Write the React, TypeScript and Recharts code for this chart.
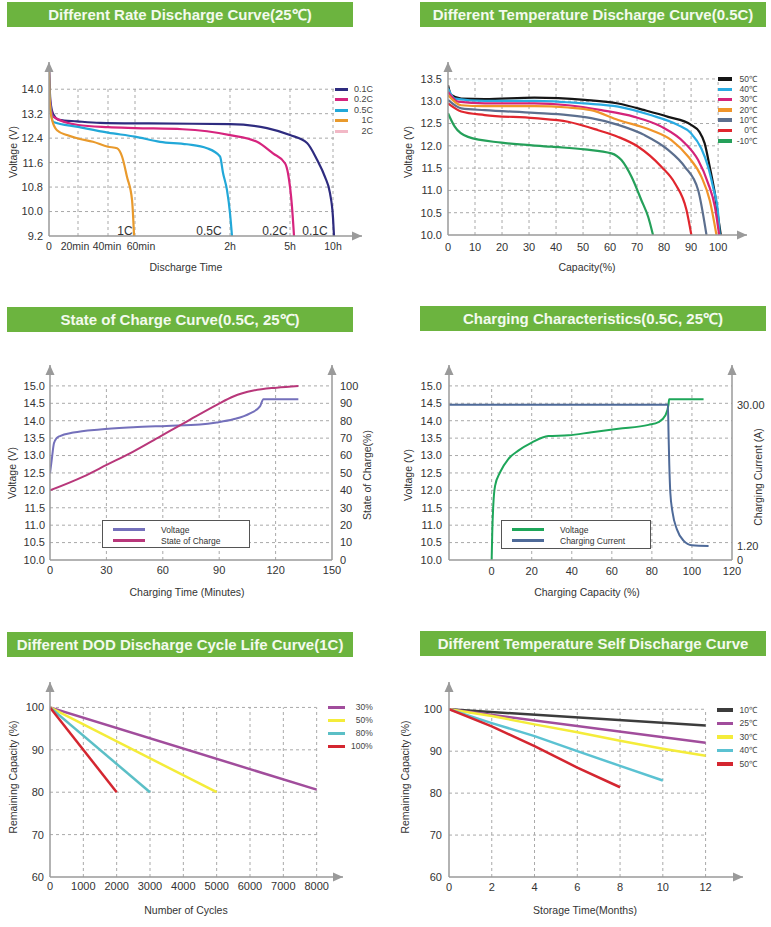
import React from "react";
import { LineChart, Line, XAxis, YAxis, ReferenceLine, ReferenceDot, Legend } from "recharts";

type P = [number, number];

const FONT = '"Liberation Sans", Arial, sans-serif';
const AXIS = "#9a9a9a";
const GRID = "#a9a9a9";
const BANNER = "#6cb43f";

// ---- Different Rate Discharge Curve (25℃) ----
const rateTickMinutes = [0, 20, 40, 60, 120, 300, 600];
const rateTickLabels = ["0", "20min", "40min", "60min", "2h", "5h", "10h"];
const rate01C: P[] = [[0, 14.7], [0.34, 14.2], [1.0, 13.6], [2.8, 13.2], [6.9, 13.0], [19.3, 12.95], [34.7, 12.9], [68.8, 12.88], [120, 12.86], [231, 12.73], [300, 12.5], [419, 12.24], [488, 11.7], [544, 11.13], [579, 10.6], [600, 9.8], [607, 9.2]];
const rate02C: P[] = [[0, 14.7], [0.34, 14.1], [1.0, 13.5], [3.0, 13.1], [20, 12.83], [40, 12.76], [60, 12.73], [90, 12.69], [120, 12.5], [201, 12.28], [249, 11.9], [285, 11.58], [294, 11.25], [314, 10.15], [328, 9.2]];
const rate05C: P[] = [[0, 14.7], [0.34, 14.0], [1.0, 13.4], [3.0, 12.93], [20, 12.77], [40, 12.58], [60, 12.45], [75.8, 12.28], [92.8, 12.2], [105.5, 12.07], [113.7, 11.8], [115.6, 11.26], [118.1, 10.7], [120, 9.95], [126, 9.2]];
const rate1C: P[] = [[0, 14.7], [0.34, 13.8], [1.0, 13.3], [2.1, 13.0], [5.5, 12.66], [12.4, 12.5], [20, 12.39], [30, 12.28], [40, 12.12], [46.7, 12.07], [50.4, 11.8], [54.1, 11.13], [57.8, 10.38], [59.3, 9.2]];
const rateNames = ["0.1C", "0.2C", "0.5C", "1C", "2C"];
const rateColors = ["#2e2b7f", "#d6247e", "#22a8d8", "#e99a2c", "#f2b8c6"];
const rateTags: [string, number, number][] = [["1C", 52.6, 9.36], ["0.5C", 106.7, 9.36], ["0.2C", 255, 9.36], ["0.1C", 474, 9.36]];

// ---- Different Temperature Discharge Curve (0.5C) ----
const temp50: P[] = [[0, 13.36], [1.2, 13.14], [4.9, 13.06], [13.6, 13.05], [32, 13.08], [50.6, 13.03], [63, 12.95], [72.8, 12.8], [81.5, 12.65], [90, 12.47], [93, 12.32], [95, 12.06], [96.9, 11.53], [98.8, 10.93], [100, 10.41], [101, 10.0]];
const temp40: P[] = [[0, 13.29], [2.5, 13.06], [13.6, 13.01], [32, 13.01], [50.6, 12.95], [63, 12.88], [75, 12.69], [85, 12.47], [90, 12.28], [93.8, 11.94], [96.3, 11.53], [98.1, 11.08], [100, 10.49], [100.6, 10.0]];
const temp30: P[] = [[0, 13.21], [3.7, 12.99], [13.6, 12.95], [32, 12.95], [44.4, 12.91], [56.8, 12.8], [69, 12.65], [79, 12.43], [87.7, 12.06], [92.6, 11.68], [96.3, 11.16], [98.8, 10.64], [100.4, 10.0]];
const temp20: P[] = [[0, 13.14], [4.9, 12.91], [13.6, 12.89], [32, 12.89], [44.4, 12.86], [53, 12.8], [63, 12.58], [75.3, 12.35], [82.7, 12.13], [88.9, 11.76], [93.8, 11.31], [96.9, 10.78], [99.4, 10.0]];
const temp10: P[] = [[0, 13.03], [4.9, 12.84], [13.6, 12.8], [32, 12.74], [44.4, 12.69], [53, 12.62], [63, 12.47], [72.8, 12.24], [81.5, 11.91], [87.7, 11.53], [92.6, 11.01], [95.7, 10.0]];
const temp0: P[] = [[0, 12.95], [4.9, 12.77], [13.6, 12.69], [32, 12.62], [44.4, 12.54], [55.6, 12.35], [63, 12.2], [70.4, 11.98], [79, 11.53], [84, 11.16], [88.3, 10.56], [90.1, 10.0]];
const tempM10: P[] = [[0, 12.73], [2.5, 12.43], [7.4, 12.2], [19.8, 12.07], [38.3, 11.98], [50.6, 11.92], [60.5, 11.83], [64.2, 11.68], [67.9, 11.31], [71.6, 10.78], [74.1, 10.41], [75.9, 10.0]];
const tempNames = ["50℃", "40℃", "30℃", "20℃", "10℃", "0℃", "-10℃"];
const tempColors = ["#151515", "#29abe2", "#d4237a", "#f0952a", "#5c6f8e", "#e0262e", "#25a05a"];

// ---- State of Charge Curve (0.5C, 25℃) ----
const socVoltage: P[] = [[0, 12.49], [0.9, 12.87], [2.1, 13.35], [3.5, 13.5], [5.3, 13.56], [12.4, 13.66], [26.6, 13.75], [44.3, 13.81], [62, 13.85], [79.8, 13.89], [88.7, 13.95], [97.5, 14.04], [106.4, 14.21], [111.7, 14.41], [113.5, 14.62], [115.2, 14.62], [132.1, 14.62]];
const socPercent: P[] = [[0, 40], [17.7, 47.9], [30.1, 54.6], [44.3, 62.3], [58.5, 70.9], [72.7, 79.5], [88.7, 89.1], [97.5, 93.9], [108.2, 97.3], [120.6, 99], [132.1, 100]];

// ---- Charging Characteristics (0.5C, 25℃) ----
const chgVoltage: P[] = [[0, 10.0], [0.3, 10.79], [0.8, 11.56], [1.7, 12.13], [4.2, 12.52], [8.3, 12.9], [13.3, 13.14], [20, 13.37], [28.3, 13.56], [38.3, 13.58], [50, 13.67], [63.3, 13.77], [78.3, 13.88], [83.3, 13.96], [86.7, 14.15], [88.3, 14.46], [88.6, 14.62], [105.8, 14.62]];
const chgCurrent: P[] = [[-21.3, 30], [88, 30], [88.3, 24.4], [88.7, 17.6], [89.2, 12.1], [90.3, 8.1], [92.5, 4.6], [95.8, 2.3], [100, 1.35], [108.3, 1.2]];
const currentTicks = [0, 1.2, 30];
const currentTickLabels = ["0", "1.20", "30.00"];

// ---- Different DOD Discharge Cycle Life Curve (1C) ----
const dod30: P[] = [[0, 100], [8000, 80.6]];
const dod50: P[] = [[0, 100], [5000, 80]];
const dod80: P[] = [[0, 100], [3000, 80]];
const dod100: P[] = [[0, 100], [2000, 80]];
const dodNames = ["30%", "50%", "80%", "100%"];
const dodColors = ["#a14d9c", "#f4ec3a", "#5bbfc6", "#d42630"];

// ---- Different Temperature Self Discharge Curve ----
const self10: P[] = [[0, 100], [12, 96.1]];
const self25: P[] = [[0, 100], [12, 92.0]];
const self30: P[] = [[0, 100], [2, 98.4], [4, 96.4], [6, 94.5], [8, 92.5], [10, 90.6], [12, 88.9]];
const self40: P[] = [[0, 100], [2, 96.7], [4, 93.6], [6, 90.0], [8, 86.5], [10, 83.0]];
const self50: P[] = [[0, 100], [2, 95.9], [4, 91.2], [6, 86.1], [8, 81.4]];
const selfNames = ["10℃", "25℃", "30℃", "40℃", "50℃"];
const selfColors = ["#3c3c3c", "#a14d9c", "#f4ec3a", "#5bc2d2", "#d42630"];

const pts = (a: P[]) => a.map(([x, y]) => ({ x, y }));

// non-linear time axis of the rate chart: where each tick sits along the axis
const rateAxisStops = [0, 29, 59, 86, 181, 241, 284];
const rateLabelNudge = [0, -3, -1, 6, 0, 0, 0];
const ratePos = (m: number) => {
  let i = 1;
  while (i < rateTickMinutes.length - 1 && m > rateTickMinutes[i]) i++;
  const t0 = rateTickMinutes[i - 1], t1 = rateTickMinutes[i];
  return rateAxisStops[i - 1] + ((m - t0) / (t1 - t0)) * (rateAxisStops[i] - rateAxisStops[i - 1]);
};

// the current axis is labelled 0 / 1.20 / 30.00 at uneven heights
const currentStops = [0, 0.4, 4.46];
const currentPos = (a: number) =>
  a <= 1.2 ? (a / 1.2) * currentStops[1] : currentStops[1] + ((a - 1.2) / 28.8) * (currentStops[2] - currentStops[1]);

const tick = { fontSize: 11, fill: "#333", fontFamily: FONT };
const axisLine = { stroke: AXIS, strokeWidth: 1.5 };

function grid(xs: number[], ys: number[], x0: number, x1: number, y0: number, y1: number, id = "l") {
  const c = { stroke: GRID, strokeDasharray: "3 3", strokeWidth: 1, yAxisId: id, ifOverflow: "visible" as const };
  return [
    ...ys.map((y) => <ReferenceLine key={"h" + y} segment={[{ x: x0, y }, { x: x1, y }]} {...c} />),
    ...xs.map((x) => <ReferenceLine key={"v" + x} segment={[{ x, y: y0 }, { x, y: y1 }]} {...c} />),
  ];
}

const UpArrow = (p: any) => (
  <path d={`M${p.cx - 4.5},${p.cy + 10}L${p.cx},${p.cy}L${p.cx + 4.5},${p.cy + 10}Z`} fill={AXIS} />
);
const RightArrow = (p: any) => (
  <path d={`M${p.cx - 10},${p.cy - 4.5}L${p.cx},${p.cy}L${p.cx - 10},${p.cy + 4.5}Z`} fill={AXIS} />
);

function SideLegend({ names, colors, rowH, sw, sh, tw, size }: any) {
  return (
    <div style={{ fontFamily: FONT }}>
      {names.map((n: string, i: number) => (
        <div key={n} style={{ display: "flex", alignItems: "center", height: rowH }}>
          <span style={{ display: "inline-block", width: sw, height: sh, background: colors[i] }} />
          <span style={{ width: tw, textAlign: "right", fontSize: size, color: "#444", lineHeight: 1 }}>{n}</span>
        </div>
      ))}
    </div>
  );
}

function BoxLegend({ items }: { items: [string, string][] }) {
  return (
    <div style={{ width: "100%", height: "100%", boxSizing: "border-box", border: "1px solid #555", background: "#fff", fontFamily: FONT, paddingTop: 3 }}>
      {items.map(([n, c]) => (
        <div key={n} style={{ display: "flex", alignItems: "center", height: 11 }}>
          <span style={{ display: "inline-block", marginLeft: 10, width: 32, height: 3, background: c }} />
          <span style={{ marginLeft: 16, fontSize: 8.5, color: "#333" }}>{n}</span>
        </div>
      ))}
    </div>
  );
}

function Banner({ x, y, w, text }: { x: number; y: number; w: number; text: string }) {
  return (
    <div style={{ position: "absolute", left: x, top: y, width: w, height: 25, background: BANNER, color: "#f3faee", fontFamily: FONT, fontWeight: "bold", fontSize: 15, lineHeight: "25px", textAlign: "center", whiteSpace: "nowrap" }}>
      {text}
    </div>
  );
}

function Txt({ x, y, text, rotate = false }: { x: number; y: number; text: string; rotate?: boolean }) {
  return (
    <div style={{ position: "absolute", left: x - 100, top: y - 6, width: 200, height: 12, lineHeight: "12px", textAlign: "center", fontSize: 10.5, fontFamily: FONT, color: "#333", whiteSpace: "nowrap", transform: rotate ? "rotate(-90deg)" : undefined }}>
      {text}
    </div>
  );
}

const Box = ({ left, top, children }: any) => <div style={{ position: "absolute", left, top }}>{children}</div>;

function RateChart() {
  const xTicks = rateTickMinutes.map(ratePos);
  const yTicks = [9.2, 10, 10.8, 11.6, 12.4, 13.2, 14];
  const series = [rate01C, rate02C, rate05C, rate1C];
  const RateTick = (p: any) => {
    const i = xTicks.indexOf(p.payload.value);
    return (
      <text x={p.x + rateLabelNudge[i]} y={p.y} dy="0.71em" textAnchor="middle" fontSize={10.5} fill="#333" fontFamily={FONT}>
        {rateTickLabels[i]}
      </text>
    );
  };
  return (
    <Box left={0} top={40}>
      <LineChart width={385} height={250} margin={{ top: 22, right: 23, bottom: 0, left: 0 }}>
        <XAxis type="number" dataKey="x" domain={[0, 313]} ticks={xTicks} interval={0} allowDataOverflow tick={RateTick} tickLine={false} tickSize={5} axisLine={axisLine} height={54} />
        <YAxis yAxisId="l" type="number" domain={[9.2, 14.89]} ticks={yTicks} interval={0} allowDataOverflow tick={tick} tickLine={false} tickSize={4} axisLine={axisLine} width={49} tickFormatter={(v: number) => v.toFixed(1)} />
        {grid(xTicks.slice(1), yTicks.slice(1), 0, 288, 9.2, 14)}
        {series.map((d, i) => (
          <Line key={rateNames[i]} yAxisId="l" data={d.map(([m, v]) => ({ x: ratePos(m), y: v }))} dataKey="y" type="monotone" stroke={rateColors[i]} strokeWidth={2.2} dot={false} isAnimationActive={false} />
        ))}
        {rateTags.map(([t, m, v]) => (
          <ReferenceDot key={t} yAxisId="l" x={ratePos(m)} y={v} ifOverflow="visible" shape={(p: any) => <text x={p.cx} y={p.cy} textAnchor="middle" dominantBaseline="central" fontSize={12} fill="#333" fontFamily={FONT}>{t}</text>} />
        ))}
        <ReferenceDot yAxisId="l" x={0} y={14.89} ifOverflow="visible" shape={UpArrow} />
        <ReferenceDot yAxisId="l" x={313} y={9.2} ifOverflow="visible" shape={RightArrow} />
        <Legend layout="vertical" align="center" verticalAlign="middle" wrapperStyle={{ left: 335, top: 43.75, width: 40, height: 55 }} content={() => <SideLegend names={rateNames} colors={rateColors} rowH={10.5} sw={13} sh={3} tw={25} size={9} />} />
      </LineChart>
    </Box>
  );
}

function TempChart() {
  const xTicks = [0, 10, 20, 30, 40, 50, 60, 70, 80, 90, 100];
  const yTicks = [10, 10.5, 11, 11.5, 12, 12.5, 13, 13.5];
  const series = [temp50, temp40, temp30, temp20, temp10, temp0, tempM10];
  return (
    <Box left={385} top={40}>
      <LineChart width={386} height={250} margin={{ top: 22, right: 24, bottom: 0, left: 0 }}>
        <XAxis type="number" dataKey="x" domain={[0, 110.7]} ticks={xTicks} interval={0} allowDataOverflow tick={tick} tickLine={false} axisLine={axisLine} height={55} />
        <YAxis yAxisId="l" type="number" domain={[10, 13.88]} ticks={yTicks} interval={0} allowDataOverflow tick={tick} tickLine={false} tickSize={4} axisLine={axisLine} width={63} tickFormatter={(v: number) => v.toFixed(1)} />
        {grid(xTicks.slice(1), yTicks.slice(1), 0, 100, 10, 13.5)}
        {series.map((d, i) => (
          <Line key={tempNames[i]} yAxisId="l" data={pts(d)} dataKey="y" type="monotone" stroke={tempColors[i]} strokeWidth={2.2} dot={false} isAnimationActive={false} />
        ))}
        <ReferenceDot yAxisId="l" x={0} y={13.88} ifOverflow="visible" shape={UpArrow} />
        <ReferenceDot yAxisId="l" x={110.7} y={10} ifOverflow="visible" shape={RightArrow} />
        <Legend layout="vertical" align="center" verticalAlign="middle" wrapperStyle={{ left: 333, top: 33.85, width: 40, height: 75 }} content={() => <SideLegend names={tempNames} colors={tempColors} rowH={10.3} sw={14} sh={3.5} tw={25} size={8.5} />} />
      </LineChart>
    </Box>
  );
}

function SocChart() {
  const xTicks = [0, 30, 60, 90, 120, 150];
  const yTicks = [10, 10.5, 11, 11.5, 12, 12.5, 13, 13.5, 14, 14.5, 15];
  const rTicks = [0, 10, 20, 30, 40, 50, 60, 70, 80, 90, 100];
  return (
    <Box left={0} top={340}>
      <LineChart width={385} height={270} margin={{ top: 25, right: 0, bottom: 0, left: 0 }}>
        <XAxis type="number" dataKey="x" domain={[0, 150]} ticks={xTicks} interval={0} allowDataOverflow tick={tick} tickLine={false} tickSize={4} axisLine={axisLine} height={50} />
        <YAxis yAxisId="l" type="number" domain={[10, 15.6]} ticks={yTicks} interval={0} allowDataOverflow tick={tick} tickLine={false} tickSize={3} axisLine={axisLine} width={50} tickFormatter={(v: number) => v.toFixed(1)} />
        <YAxis yAxisId="r" orientation="right" type="number" domain={[0, 112]} ticks={rTicks} interval={0} allowDataOverflow tick={tick} tickLine={false} axisLine={axisLine} width={53} />
        {grid(xTicks.slice(1, -1), yTicks.slice(1), 0, 150, 10, 15)}
        <Line yAxisId="l" data={pts(socVoltage)} dataKey="y" type="monotone" stroke="#7470bb" strokeWidth={2} dot={false} isAnimationActive={false} />
        <Line yAxisId="r" data={pts(socPercent)} dataKey="y" type="monotone" stroke="#b8377a" strokeWidth={2} dot={false} isAnimationActive={false} />
        <ReferenceDot yAxisId="l" x={0} y={15.6} ifOverflow="visible" shape={UpArrow} />
        <ReferenceDot yAxisId="l" x={150} y={15.6} ifOverflow="visible" shape={UpArrow} />
        <Legend layout="vertical" align="center" verticalAlign="middle" wrapperStyle={{ left: 102, top: 180, width: 148, height: 28 }} content={() => <BoxLegend items={[["Voltage", "#7470bb"], ["State of Charge", "#b8377a"]]} />} />
      </LineChart>
    </Box>
  );
}

function ChargeChart() {
  const xTicks = [0, 20, 40, 60, 80, 100, 120];
  const yTicks = [10, 10.5, 11, 11.5, 12, 12.5, 13, 13.5, 14, 14.5, 15];
  const rTicks = currentTicks.map(currentPos);
  return (
    <Box left={385} top={340}>
      <LineChart width={386} height={270} margin={{ top: 25, right: 0, bottom: 0, left: 0 }}>
        <XAxis type="number" dataKey="x" domain={[-21.3, 120]} ticks={xTicks} interval={0} allowDataOverflow tick={tick} tickLine={false} tickSize={5} axisLine={axisLine} height={50} />
        <YAxis yAxisId="l" type="number" domain={[10, 15.6]} ticks={yTicks} interval={0} allowDataOverflow tick={tick} tickLine={false} tickSize={5} axisLine={axisLine} width={64} tickFormatter={(v: number) => v.toFixed(1)} />
        <YAxis yAxisId="r" orientation="right" type="number" domain={[0, 5.6]} ticks={rTicks} interval={0} allowDataOverflow tick={tick} tickLine={false} tickSize={3} axisLine={axisLine} width={39} tickFormatter={(v: number) => currentTickLabels[rTicks.indexOf(v)]} />
        {grid(xTicks.slice(0, -1), yTicks.slice(1), -21.3, 120, 10, 15)}
        <Line yAxisId="l" data={pts(chgVoltage)} dataKey="y" type="monotone" stroke="#1ea65a" strokeWidth={2} dot={false} isAnimationActive={false} />
        <Line yAxisId="r" data={chgCurrent.map(([c, a]) => ({ x: c, y: currentPos(a) }))} dataKey="y" type="monotone" stroke="#4e6a99" strokeWidth={2} dot={false} isAnimationActive={false} />
        <ReferenceDot yAxisId="l" x={-21.3} y={15.6} ifOverflow="visible" shape={UpArrow} />
        <ReferenceDot yAxisId="l" x={120} y={15.6} ifOverflow="visible" shape={UpArrow} />
        <Legend layout="vertical" align="center" verticalAlign="middle" wrapperStyle={{ left: 116, top: 180, width: 150, height: 29 }} content={() => <BoxLegend items={[["Voltage", "#1ea65a"], ["Charging Current", "#4e6a99"]]} />} />
      </LineChart>
    </Box>
  );
}

function DodChart() {
  const xTicks = [0, 1000, 2000, 3000, 4000, 5000, 6000, 7000, 8000];
  const yTicks = [60, 70, 80, 90, 100];
  const series = [dod30, dod50, dod80, dod100];
  return (
    <Box left={0} top={660}>
      <LineChart width={385} height={267} margin={{ top: 22, right: 42, bottom: 0, left: 0 }}>
        <XAxis type="number" dataKey="x" domain={[0, 8790]} ticks={xTicks} interval={0} allowDataOverflow tick={tick} tickLine={false} tickSize={3} axisLine={axisLine} height={50} />
        <YAxis yAxisId="l" type="number" domain={[60, 106]} ticks={yTicks} interval={0} allowDataOverflow tick={tick} tickLine={false} tickSize={4} axisLine={axisLine} width={50} />
        {grid(xTicks.slice(1), yTicks.slice(1), 0, 8000, 60, 100)}
        {series.map((d, i) => (
          <Line key={dodNames[i]} yAxisId="l" data={pts(d)} dataKey="y" type="linear" stroke={dodColors[i]} strokeWidth={2.5} dot={false} isAnimationActive={false} />
        ))}
        <ReferenceDot yAxisId="l" x={0} y={106} ifOverflow="visible" shape={UpArrow} />
        <ReferenceDot yAxisId="l" x={8790} y={60} ifOverflow="visible" shape={RightArrow} />
        <Legend layout="vertical" align="center" verticalAlign="middle" wrapperStyle={{ left: 328, top: 40.75, width: 46, height: 54 }} content={() => <SideLegend names={dodNames} colors={dodColors} rowH={13.1} sw={17} sh={3.5} tw={27.7} size={8.5} />} />
      </LineChart>
    </Box>
  );
}

function SelfChart() {
  const xTicks = [0, 2, 4, 6, 8, 10, 12];
  const yTicks = [60, 70, 80, 90, 100];
  const series = [self10, self25, self30, self40, self50];
  return (
    <Box left={385} top={660}>
      <LineChart width={386} height={267} margin={{ top: 22, right: 28, bottom: 0, left: 0 }}>
        <XAxis type="number" dataKey="x" domain={[0, 13.75]} ticks={xTicks} interval={0} allowDataOverflow tick={tick} tickLine={false} tickSize={4} axisLine={axisLine} height={50} />
        <YAxis yAxisId="l" type="number" domain={[60, 106.5]} ticks={yTicks} interval={0} allowDataOverflow tick={tick} tickLine={false} tickSize={5} axisLine={axisLine} width={64} />
        {grid(xTicks.slice(1), yTicks.slice(1), 0, 12, 60, 100)}
        {series.map((d, i) => (
          <Line key={selfNames[i]} yAxisId="l" data={pts(d)} dataKey="y" type="linear" stroke={selfColors[i]} strokeWidth={2.5} dot={false} isAnimationActive={false} />
        ))}
        <ReferenceDot yAxisId="l" x={0} y={106.5} ifOverflow="visible" shape={UpArrow} />
        <ReferenceDot yAxisId="l" x={13.75} y={60} ifOverflow="visible" shape={RightArrow} />
        <Legend layout="vertical" align="center" verticalAlign="middle" wrapperStyle={{ left: 331.7, top: 43.25, width: 42, height: 68 }} content={() => <SideLegend names={selfNames} colors={selfColors} rowH={13.5} sw={16.6} sh={3.5} tw={23.7} size={8.5} />} />
      </LineChart>
    </Box>
  );
}

export default function App() {
  return (
    <div style={{ position: "absolute", left: 0, top: 0, width: 771, height: 927, background: "#fff", overflow: "hidden", fontFamily: FONT }}>
      <Banner x={7} y={2} w={346} text="Different Rate Discharge Curve(25℃)" />
      <Banner x={420} y={2} w={346} text="Different Temperature Discharge Curve(0.5C)" />
      <Banner x={7} y={307} w={346} text="State of Charge Curve(0.5C, 25℃)" />
      <Banner x={420} y={306} w={346} text="Charging Characteristics(0.5C, 25℃)" />
      <Banner x={7} y={632} w={346} text="Different DOD Discharge Cycle Life Curve(1C)" />
      <Banner x={420} y={631} w={346} text="Different Temperature Self Discharge Curve" />

      <RateChart />
      <TempChart />
      <SocChart />
      <ChargeChart />
      <DodChart />
      <SelfChart />

      <Txt x={13} y={152} text="Voltage (V)" rotate />
      <Txt x={186} y={267} text="Discharge Time" />
      <Txt x={408} y={152} text="Voltage (V)" rotate />
      <Txt x={587} y={267} text="Capacity(%)" />
      <Txt x={12} y={473} text="Voltage (V)" rotate />
      <Txt x={367} y={475} text="State of Charge(%)" rotate />
      <Txt x={187} y={592} text="Charging Time (Minutes)" />
      <Txt x={408} y={475} text="Voltage (V)" rotate />
      <Txt x={758} y={477} text="Charging Current (A)" rotate />
      <Txt x={587} y={592} text="Charging Capacity (%)" />
      <Txt x={13} y={777} text="Remaining Capacity (%)" rotate />
      <Txt x={186} y={910} text="Number of Cycles" />
      <Txt x={405} y={777} text="Remaining Capacity (%)" rotate />
      <Txt x={585} y={910} text="Storage Time(Months)" />
    </div>
  );
}
